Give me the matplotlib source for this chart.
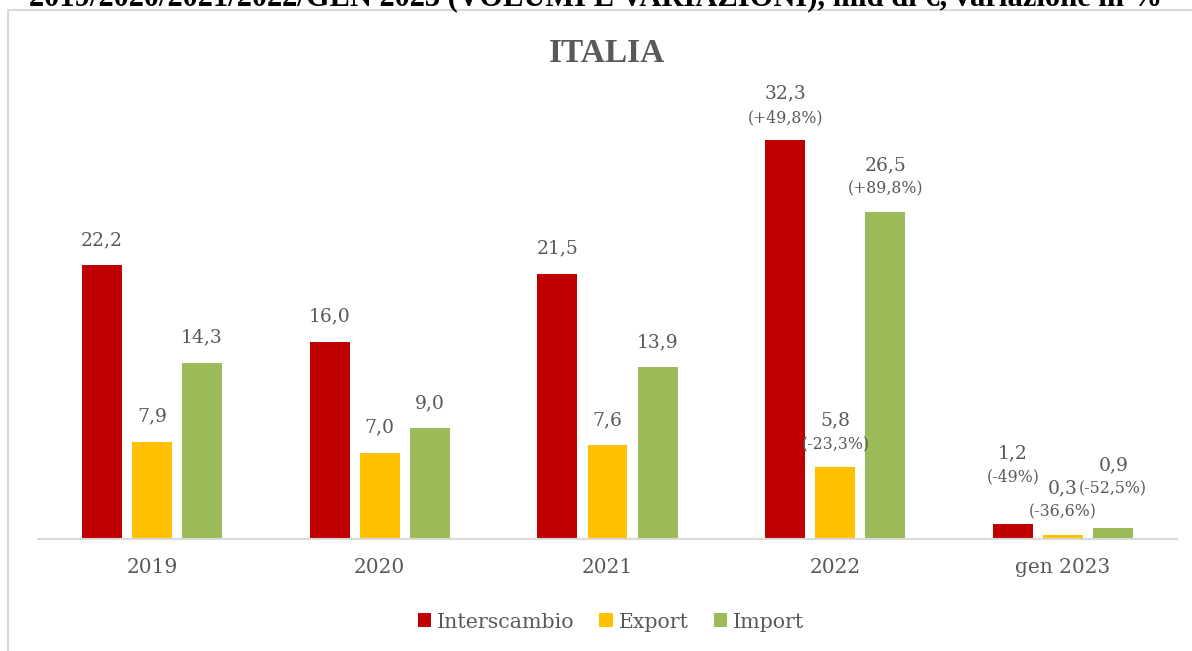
import numpy as np
import matplotlib.pyplot as plt
from matplotlib.patches import Rectangle

categories = ['2019', '2020', '2021', '2022', 'gen 2023']
series = ['Interscambio', 'Export', 'Import']
interscambio = [22.2, 16.0, 21.5, 32.3, 1.2]
export = [7.9, 7.0, 7.6, 5.8, 0.3]
imports = [14.3, 9.0, 13.9, 26.5, 0.9]
pct_inter = [None, None, None, '(+49,8%)', '(-49%)']
pct_export = [None, None, None, '(-23,3%)', '(-36,6%)']
pct_import = [None, None, None, '(+89,8%)', '(-52,5%)']

colors = ['#C00000', '#FFC000', '#9BBB59']
gray = '#595959'
serif = 'DejaVu Serif'

fig = plt.figure(figsize=(11.92, 6.51), dpi=100)

# frame of the chart area (cut by the image edges on right / bottom)
fig.patches.append(Rectangle((8 / 1192, -0.05), 1.2, 1 - 10 / 651 + 0.05,
                             transform=fig.transFigure, fill=False,
                             edgecolor='#D9D9D9', linewidth=1.5, zorder=0))

# page title above the chart, cut by the top edge as in the source
fig.text(0.5, 1.0 + 2 / 651, '2019/2020/2021/2022/GEN 2023 (VOLUMI E VARIAZIONI), mld di €, variazione in %',
         ha='center', va='center', fontsize=22, fontweight='bold',
         family='Liberation Serif', color='black')
fig.text(607 / 1192, 1 - 53 / 651, 'ITALIA', ha='center', va='center',
         fontsize=24, fontweight='bold', family='Liberation Serif', color=gray)

ax = fig.add_axes([38 / 1192, 112 / 651, (1177 - 38) / 1192, 459 / 651])
x = np.arange(len(categories))
width = 0.175
step = 0.22
values = [interscambio, export, imports]
pcts = [pct_inter, pct_export, pct_import]
# extra lift (pixels) for the hand-placed labels of the last group
lift = [[0, 0, 0, 0, 24], [0, 0, 0, 0, 0], [0, 0, 0, 0, 16]]

for i, (vals, pc, c, name) in enumerate(zip(values, pcts, colors, series)):
    xs = x + (i - 1) * step
    ax.bar(xs, vals, width=width, color=c, label=name, zorder=2)
    for j, (xx, v, p) in enumerate(zip(xs, vals, pc)):
        up = lift[i][j]
        lab = f'{v:.1f}'.replace('.', ',')
        if p is None:
            ax.annotate(lab, (xx, v), xytext=(0, 25 + up), textcoords='offset pixels',
                        ha='center', va='center', fontsize=13.5, family=serif, color=gray)
        else:
            ax.annotate(p, (xx, v), xytext=(0, 23 + up), textcoords='offset pixels',
                        ha='center', va='center', fontsize=11.3, family=serif, color=gray)
            ax.annotate(lab, (xx, v), xytext=(0, 47 + up), textcoords='offset pixels',
                        ha='center', va='center', fontsize=13.5, family=serif, color=gray)

ax.set_xlim(-0.5, 4.5)
ax.set_ylim(0, 459 / 12.34)
for s in ['top', 'right', 'left']:
    ax.spines[s].set_visible(False)
ax.spines['bottom'].set_color('#D9D9D9')
ax.spines['bottom'].set_linewidth(1.5)
ax.set_yticks([])
ax.set_xticks(x)
ax.set_xticklabels(categories, fontsize=14.5, family=serif, color=gray)
ax.tick_params(axis='x', length=0, pad=14)

leg = fig.legend(loc='center', bbox_to_anchor=(611 / 1192, 1 - 622 / 651), ncol=3,
                 frameon=False, handlelength=0.65, handleheight=0.65, handletextpad=0.3,
                 columnspacing=1.2, prop={'family': serif, 'size': 14.8})
for t in leg.get_texts():
    t.set_color(gray)

fig.savefig('out.png', dpi=100)
